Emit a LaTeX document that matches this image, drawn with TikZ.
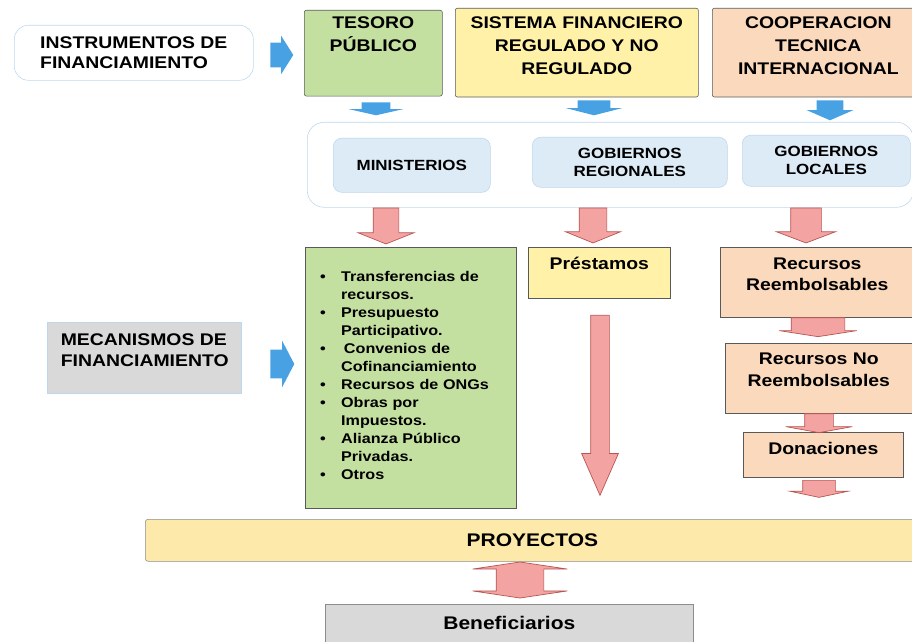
\documentclass[tikz,border=0pt]{standalone}
\usepackage{fontspec}
\setmainfont{Liberation Sans}[FakeStretch=1.15]
\usepackage{tikz}
\usetikzlibrary{shapes.arrows}
\definecolor{edge}{HTML}{595959}
\definecolor{paleblue}{HTML}{BDD7EE}
\definecolor{govfill}{HTML}{DDEBF7}
\definecolor{tesorofill}{HTML}{C4E0A0}
\definecolor{sistemafill}{HTML}{FFF2A8}
\definecolor{coopfill}{HTML}{FAD9BC}
\definecolor{proyfill}{HTML}{FDE9A9}
\definecolor{greyfill}{HTML}{D9D9D9}
\definecolor{greyedge}{HTML}{8C8C8C}
\definecolor{arrowblue}{HTML}{47A1E2}
\definecolor{arrowpink}{HTML}{F4A3A3}
\definecolor{pinkedge}{HTML}{B85450}
\newcommand{\tpad}[1]{\rule{0pt}{#1}}
\newcommand{\bpad}[1]{\rule[-#1]{0pt}{#1}}
\newcommand{\itm}{\makebox[14.9pt][l]{\textbullet}}
\newcommand{\cnt}{\hspace*{14.9pt}}
\tikzset{
  srcbox/.style={draw=edge,rounded corners=1.5pt,inner sep=0pt,align=center,anchor=north west,font=\fontsize{12}{16.3}\selectfont\bfseries},
  govbox/.style={draw=paleblue,fill=govfill,rounded corners=6pt,align=center,anchor=north west,font=\fontsize{10.5}{12.8}\selectfont\bfseries},
  mechbox/.style={draw=edge,inner sep=0pt,align=center,anchor=north west,font=\fontsize{12}{14.9}\selectfont\bfseries},
  bluearrow/.style={single arrow,fill=arrowblue,inner xsep=0pt,single arrow head indent=0pt,anchor=tail},
  pinkarrow/.style={single arrow,fill=arrowpink,draw=pinkedge,line width=0.5pt,inner xsep=0pt,single arrow head indent=0pt,rotate=-90,anchor=tail},
  arrowsize/.style n args={4}{minimum height=#1*0.025cm,inner ysep=#2*0.025cm,single arrow head extend={(#3-#2)*0.025cm},single arrow tip angle=#4}}

\begin{document}
\begin{tikzpicture}[x=0.025cm,y=-0.025cm]
  \useasboundingbox (0,0) rectangle (912,642);
  \node[draw=paleblue,fill=white,rounded corners=10pt,minimum width=5.975cm,minimum height=1.375cm,anchor=north west,align=left,font=\fontsize{12}{14.2}\selectfont\bfseries] (instr) at (14,25)
    {INSTRUMENTOS DE\\FINANCIAMIENTO};
  \node[srcbox,fill=tesorofill,minimum width=3.45cm] (tesoro) at (304,10)
    {\tpad{12.8pt}TESORO\\PÚBLICO\bpad{31.9pt}};
  \node[srcbox,fill=sistemafill,minimum width=6.075cm] (sistema) at (455,8)
    {\tpad{14.2pt}SISTEMA FINANCIERO\\REGULADO Y NO\\REGULADO\bpad{16.3pt}};
  \node[srcbox,fill=coopfill,minimum width=5.3cm] (coop) at (712,8)
    {\tpad{14.2pt}COOPERACION\\TECNICA\\INTERNACIONAL\bpad{16.3pt}};
  \node[bluearrow,arrowsize={23}{12}{19}{115.4}] (ainstr) at (270,55) {};
  \node[bluearrow,arrowsize={13}{14}{26.5}{154.5},rotate=-90] (atesoro) at (376,102) {};
  \node[bluearrow,arrowsize={15}{16}{27.5}{151.4},rotate=-90] (asistema) at (594,100) {};
  \node[bluearrow,arrowsize={20}{13}{23}{133},rotate=-90] (acoop) at (830,100) {};

  \node[draw=paleblue,fill=white,rounded corners=12pt,minimum width=15.15cm,minimum height=2.125cm,anchor=north west] (niveles) at (307,122) {};
  \node[govbox,minimum width=3.925cm,minimum height=1.35cm] (minist) at (333,138) {MINISTERIOS};
  \node[govbox,minimum width=4.875cm,minimum height=1.25cm] (gobreg) at (532,137) {GOBIERNOS\\REGIONALES};
  \node[govbox,minimum width=4.2cm,minimum height=1.275cm] (gobloc) at (742,135) {GOBIERNOS\\LOCALES};
  \node[pinkarrow,arrowsize={36}{12.5}{27.5}{136.4}] (aminist) at (386,0 |- niveles.south) {};
  \node[pinkarrow,arrowsize={35}{13.5}{27}{135.7}] (agobreg) at (593,0 |- niveles.south) {};
  \node[pinkarrow,arrowsize={35}{15}{29}{138.5}] (agobloc) at (806,0 |- niveles.south) {};

  \node[draw=paleblue,line width=1pt,fill=greyfill,inner sep=0pt,anchor=north west,align=left,minimum width=4.85cm,font=\fontsize{12}{14.9}\selectfont\bfseries] (mecan) at (47,322)
    {\tpad{16.3pt}MECANISMOS DE\\FINANCIAMIENTO\bpad{19.1pt}};
  \node[bluearrow,arrowsize={24}{14}{23}{124.8}] (amecan) at (270,364) {};
  \node[draw=edge,fill=tesorofill,anchor=north west,inner xsep=10.6pt,inner ysep=0pt,text width=129pt,align=left,font=\fontsize{10}{12.8}\selectfont\bfseries] (lista) at (305,247)
    {\tpad{24pt}\itm Transferencias de\\\cnt recursos.\\\itm Presupuesto\\\cnt Participativo.\\\itm\hspace*{2pt}Convenios de\\\cnt Cofinanciamiento\\\itm Recursos de ONGs\\\itm Obras por\\\cnt Impuestos.\\\itm Alianza Público\\\cnt Privadas.\\\itm Otros\bpad{20.5pt}};

  \node[mechbox,fill=sistemafill,minimum width=3.55cm] (prest) at (528,247)
    {\tpad{15.6pt}Préstamos\bpad{20.6pt}};
  \node[pinkarrow,arrowsize={180}{9}{18}{47.4}] (aprest) at (600,315) {};

  \node[mechbox,fill=coopfill,minimum width=4.85cm] (reemb) at (720,247)
    {\tpad{15.6pt}Recursos\\Reembolsables\bpad{19.1pt}};
  \node[mechbox,fill=coopfill,minimum width=4.675cm,font=\fontsize{12}{15.6}\selectfont\bfseries] (noreemb) at (725,343)
    {\tpad{14.9pt}Recursos No\\Reembolsables\bpad{19.1pt}};
  \node[mechbox,fill=coopfill,minimum width=4cm] (donac) at (743,432)
    {\tpad{15.6pt}Donaciones\bpad{16.3pt}};
  \node[pinkarrow,arrowsize={19}{26.5}{38.5}{162.3}] (areemb) at (818,0 |- reemb.south) {};
  \node[pinkarrow,arrowsize={19}{14}{33}{159.4}] (anoreemb) at (819,0 |- noreemb.south) {};
  \node[pinkarrow,arrowsize={17}{16}{28.5}{156.2}] (adonac) at (819,480) {};

  \node[draw=greyedge,fill=proyfill,rounded corners=2pt,anchor=north west,minimum width=19.35cm,minimum height=1.05cm,font=\fontsize{13}{15}\selectfont\bfseries] (proy) at (145,519) {PROYECTOS};
  \node[double arrow,fill=arrowpink,draw=pinkedge,line width=0.5pt,inner xsep=0pt,inner ysep=0.5875cm,double arrow head extend=0.5875cm,double arrow tip angle=163,minimum height=0.9cm,rotate=90] (aproy) at (520,580) {};
  \node[draw=greyedge,fill=greyfill,inner sep=0pt,anchor=north west,minimum width=9.2cm,align=center,font=\fontsize{13}{15}\selectfont\bfseries] (benef) at (325,604)
    {\tpad{17.7pt}Beneficiarios\bpad{14.9pt}};
\end{tikzpicture}
\end{document}
